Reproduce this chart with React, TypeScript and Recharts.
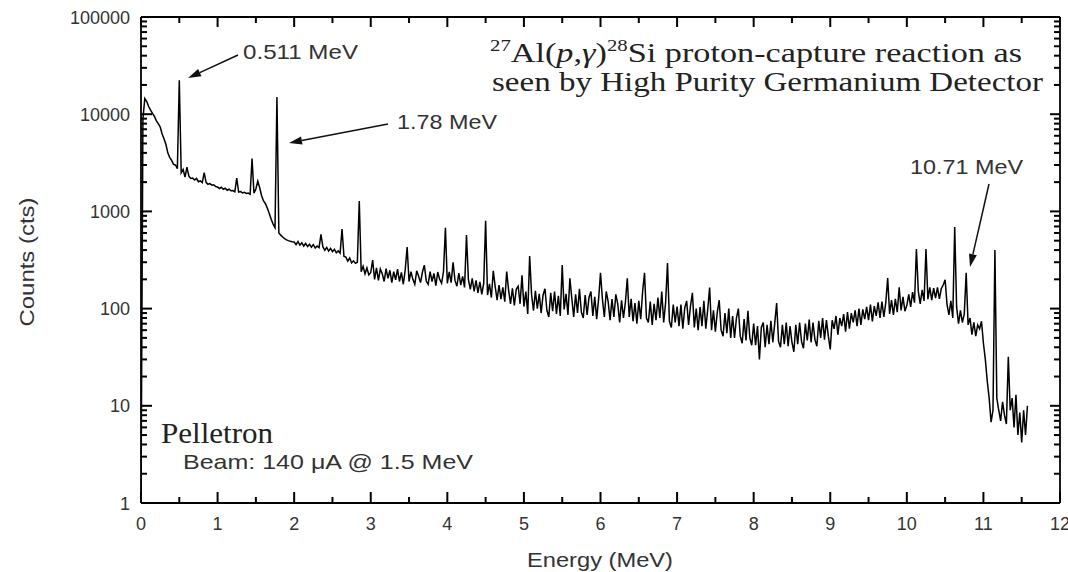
import { LineChart, Line, XAxis, YAxis } from 'recharts';

const WIDTH = 1068;
const HEIGHT = 572;

const SANS = '"Liberation Sans", Arial, Helvetica, sans-serif';
const SERIF = '"Liberation Serif", "Times New Roman", serif';

// HPGe spectrum, counts per 0.025 MeV channel, one array per MeV
const CHANNEL_MEV = 0.025;

const counts0 = [
  1, 9000, 14500, 13500, 12000, 11000, 10200, 9500, 8600, 8000,
  7400, 6300, 5600, 4900, 4000, 3600, 3350, 3050, 3000, 2750,
  22400, 2500, 2700, 2250, 2850, 2300, 2180, 2200, 2100, 2180,
  2020, 2060, 1980, 2500, 1990, 1900, 1930, 1860, 1880, 1800,
];
const counts1 = [
  1780, 1720, 1770, 1690, 1730, 1650, 1690, 1630, 1640, 1590,
  2200, 1580, 1600, 1550, 1570, 1530, 1545, 1500, 3500, 1540,
  1700, 2050, 1750, 1450, 1280, 1200, 1080, 950, 830, 740,
  680, 15000, 600, 570, 545, 525, 510, 500, 492, 488,
];
const counts2 = [
  485, 455, 490, 450, 475, 440, 468, 435, 460, 428,
  455, 420, 440, 425, 580, 432, 398, 425, 390, 416,
  385, 408, 376, 392, 372, 660, 345, 338, 308, 332,
  295, 310, 292, 300, 1280, 240, 272, 228, 262, 222,
];
const counts3 = [
  235, 316, 200, 262, 195, 255, 228, 190, 258, 205,
  248, 185, 240, 198, 255, 190, 236, 178, 250, 430,
  190, 240, 200, 178, 245, 215, 185, 238, 280, 192,
  178, 240, 190, 230, 172, 238, 200, 182, 242, 680,
];
const counts4 = [
  182, 238, 185, 300, 195, 170, 232, 175, 215, 165,
  570, 200, 158, 205, 150, 195, 145, 188, 140, 182,
  800, 138, 180, 130, 245, 168, 122, 175, 125, 165,
  118, 240, 155, 112, 162, 108, 158, 170, 112, 220,
];
const counts5 = [
  105, 150, 88, 348, 140, 95, 152, 100, 142, 90,
  138, 160, 96, 82, 145, 94, 150, 88, 135, 84,
  280, 98, 142, 86, 205, 128, 82, 140, 90, 160,
  92, 80, 138, 86, 130, 150, 84, 132, 78, 125,
];
const counts6 = [
  233, 125, 82, 150, 118, 76, 125, 82, 140, 112,
  72, 122, 80, 116, 205, 82, 126, 74, 114, 70,
  120, 78, 150, 233, 80, 72, 118, 68, 112, 76,
  130, 80, 150, 72, 115, 295, 74, 64, 110, 72,
];
const counts7 = [
  105, 66, 110, 62, 102, 120, 68, 106, 145, 64,
  100, 60, 104, 66, 120, 62, 98, 165, 60, 96,
  58, 92, 122, 60, 52, 90, 56, 100, 50, 84,
  50, 80, 100, 52, 44, 78, 47, 95, 50, 42,
];
const counts8 = [
  70, 42, 66, 30, 64, 72, 40, 68, 43, 75,
  45, 70, 114, 46, 40, 68, 43, 72, 41, 66,
  45, 36, 68, 43, 72, 46, 39, 70, 47, 77,
  45, 72, 48, 41, 75, 50, 80, 48, 76, 52,
];
const counts9 = [
  38, 76, 62, 84, 54, 80, 66, 88, 58, 92,
  62, 90, 72, 96, 66, 100, 68, 98, 78, 104,
  76, 110, 74, 106, 84, 116, 80, 118, 82, 115,
  206, 88, 122, 86, 126, 92, 166, 96, 132, 94,
];
const counts10 = [
  108, 140, 104, 148, 115, 410, 150, 112, 156, 120,
  410, 125, 165, 122, 162, 128, 165, 126, 160, 175,
  198, 110, 86, 120, 80, 690, 104, 70, 96, 72,
  88, 233, 68, 80, 54, 72, 52, 68, 62, 74,
];
const counts11 = [
  44, 30, 18, 12, 6.8, 9, 400, 12, 9, 7,
  11, 8, 6.5, 32, 9, 12, 6, 13, 5, 8.5,
  4.2, 9, 5, 10,
];

const SEGMENTS = [
  counts0, counts1, counts2, counts3, counts4, counts5,
  counts6, counts7, counts8, counts9, counts10, counts11,
];

const ENERGY_TICKS = [
  0, 0.5, 1, 1.5, 2, 2.5, 3, 3.5, 4, 4.5, 5, 5.5, 6,
  6.5, 7, 7.5, 8, 8.5, 9, 9.5, 10, 10.5, 11, 11.5, 12,
];
const DECADES = [1, 10, 100, 1000, 10000, 100000];
const COUNT_TICKS = DECADES.flatMap((d) =>
  d === 100000 ? [d] : [1, 2, 3, 4, 5, 6, 7, 8, 9].map((k) => k * d)
);

const spectrum = SEGMENTS.flatMap((seg, s) =>
  seg.map((c, i) => ({ energy: +(s + i * CHANNEL_MEV).toFixed(3), counts: c }))
);

const axisLine = { stroke: '#000', strokeWidth: 1.8 };
const tickStroke = { stroke: '#000', strokeWidth: 2 };

function BottomTick({ x, y, payload }: any) {
  const major = Number.isInteger(payload.value);
  const len = major ? 11 : 6;
  return (
    <g>
      <path d={`M${x},${y}V${y - len}`} {...tickStroke} fill="none" />
      {major && (
        <text x={x} y={y + 27} textAnchor="middle" fontSize={18} fontFamily={SANS} fill="#333" stroke="none">
          {payload.value}
        </text>
      )}
    </g>
  );
}

function TopTick({ x, y, payload }: any) {
  const len = Number.isInteger(payload.value) ? 10 : 6;
  return <path d={`M${x},${y}V${y + len}`} {...tickStroke} fill="none" />;
}

function LeftTick({ x, y, payload }: any) {
  const major = DECADES.includes(payload.value);
  const len = major ? 11 : 6;
  return (
    <g>
      <path d={`M${x},${y}H${x + len}`} {...tickStroke} fill="none" />
      {major && (
        <text x={x - 11} y={y + 6.5} textAnchor="end" fontSize={18} fontFamily={SANS} fill="#333" stroke="none">
          {payload.value}
        </text>
      )}
    </g>
  );
}

function RightTick({ x, y, payload }: any) {
  const len = DECADES.includes(payload.value) ? 10 : 6;
  return <path d={`M${x},${y}H${x - len}`} {...tickStroke} fill="none" />;
}

function Arrow({ from, to }: { from: [number, number]; to: [number, number] }) {
  const [x1, y1] = from;
  const [x2, y2] = to;
  const len = Math.hypot(x2 - x1, y2 - y1);
  const ux = (x2 - x1) / len;
  const uy = (y2 - y1) / len;
  const hl = 13;
  const hw = 4;
  const bx = x2 - ux * hl;
  const by = y2 - uy * hl;
  const pts = `${x2},${y2} ${bx - uy * hw},${by + ux * hw} ${bx + uy * hw},${by - ux * hw}`;
  return (
    <g>
      <line x1={x1} y1={y1} x2={bx} y2={by} stroke="#111" strokeWidth={1.5} />
      <polygon points={pts} fill="#111" />
    </g>
  );
}

function Annotations() {
  const label = { fontFamily: SANS, fontSize: 21, fill: '#333' };
  return (
    <svg
      width={WIDTH}
      height={HEIGHT}
      style={{ position: 'absolute', left: 0, top: 0, pointerEvents: 'none' }}
    >
      <text x={243} y={59} textLength={115} lengthAdjust="spacingAndGlyphs" {...label}>0.511 MeV</text>
      <Arrow from={[238, 55]} to={[188, 78]} />
      <text x={397} y={129} textLength={100} lengthAdjust="spacingAndGlyphs" {...label}>1.78 MeV</text>
      <Arrow from={[388, 124]} to={[289, 143]} />
      <text x={910} y={174} textLength={113} lengthAdjust="spacingAndGlyphs" {...label}>10.71 MeV</text>
      <Arrow from={[989, 184]} to={[970, 267]} />

      <text x={490} y={62} textLength={532} lengthAdjust="spacingAndGlyphs" fontFamily={SERIF} fontSize={28} fill="#222">
        <tspan fontSize={17} dy={-11}>27</tspan>
        <tspan dy={11}>Al(</tspan>
        <tspan fontStyle="italic">p</tspan>
        <tspan>,</tspan>
        <tspan fontStyle="italic">γ</tspan>
        <tspan>)</tspan>
        <tspan fontSize={17} dy={-11}>28</tspan>
        <tspan dy={11}>Si proton-capture reaction  as</tspan>
      </text>
      <text x={492} y={91} textLength={551} lengthAdjust="spacingAndGlyphs" fontFamily={SERIF} fontSize={28} fill="#222">
        seen by High Purity Germanium Detector
      </text>

      <text x={161} y={443} textLength={112} lengthAdjust="spacingAndGlyphs" fontFamily={SERIF} fontSize={30} fill="#222">
        Pelletron
      </text>
      <text x={183} y={469} textLength={290} lengthAdjust="spacingAndGlyphs" {...label}>
        Beam: 140 μA @ 1.5 MeV
      </text>

      <text x={600} y={567} textAnchor="middle" textLength={146} lengthAdjust="spacingAndGlyphs" fontFamily={SANS} fontSize={20} fill="#333">
        Energy (MeV)
      </text>
      <text
        x={34}
        y={262}
        transform="rotate(-90 34 262)"
        textAnchor="middle"
        textLength={129}
        lengthAdjust="spacingAndGlyphs"
        fontFamily={SANS}
        fontSize={20}
        fill="#333"
      >
        Counts (cts)
      </text>
    </svg>
  );
}

export default function App() {
  return (
    <div style={{ position: 'absolute', left: 0, top: 0, width: WIDTH, height: HEIGHT, background: '#fff' }}>
      <LineChart
        width={WIDTH}
        height={HEIGHT}
        data={spectrum}
        margin={{ top: 0, right: 7, bottom: 0, left: 0 }}
      >
        <XAxis
          xAxisId="bottom"
          dataKey="energy"
          type="number"
          domain={[0, 12]}
          allowDataOverflow
          ticks={ENERGY_TICKS}
          interval={0}
          height={69}
          tickSize={0}
          tickMargin={0}
          tickLine={false}
          axisLine={axisLine}
          tick={BottomTick}
        />
        <XAxis
          xAxisId="top"
          orientation="top"
          dataKey="energy"
          type="number"
          domain={[0, 12]}
          allowDataOverflow
          ticks={ENERGY_TICKS}
          interval={0}
          height={17}
          tickSize={0}
          tickMargin={0}
          tickLine={false}
          axisLine={axisLine}
          tick={TopTick}
        />
        <YAxis
          yAxisId="left"
          type="number"
          scale="log"
          domain={[1, 100000]}
          allowDataOverflow
          ticks={COUNT_TICKS}
          interval={0}
          width={141}
          tickSize={0}
          tickMargin={0}
          tickLine={false}
          axisLine={axisLine}
          tick={LeftTick}
        />
        <YAxis
          yAxisId="right"
          orientation="right"
          type="number"
          scale="log"
          domain={[1, 100000]}
          allowDataOverflow
          ticks={COUNT_TICKS}
          interval={0}
          width={1}
          tickSize={0}
          tickMargin={0}
          tickLine={false}
          axisLine={axisLine}
          tick={RightTick}
        />
        <Line
          xAxisId="bottom"
          yAxisId="left"
          dataKey="counts"
          type="linear"
          stroke="#000"
          strokeWidth={1.5}
          dot={false}
          isAnimationActive={false}
        />
        <Line
          xAxisId="top"
          yAxisId="right"
          dataKey="counts"
          type="linear"
          stroke="none"
          dot={false}
          isAnimationActive={false}
        />
      </LineChart>
      <Annotations />
    </div>
  );
}
